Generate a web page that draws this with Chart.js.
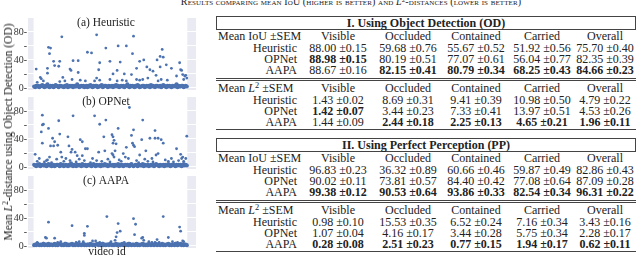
<!DOCTYPE html>
<html>
<head>
<meta charset="utf-8">
<script src="https://cdn.jsdelivr.net/npm/chart.js@4.4.1/dist/chart.umd.min.js"></script>
<style>
  body { margin: 0; width: 640px; height: 255px; overflow: hidden; background: #fff; position: relative;
         font-family: 'Liberation Serif', 'DejaVu Serif', serif; color: #222; }
  canvas.panel { position: absolute; left: 0; }
  #ytitle { position: absolute; left: 8px; top: 132px; transform: translate(-50%, -50%) rotate(-90deg);
            white-space: nowrap; font-size: 11.5px; }
  #xtitle { position: absolute; left: 107px; top: 245px; transform: translateX(-50%); font-size: 11.5px; white-space: nowrap; }
  #caption { position: absolute; left: 351px; top: -4px; transform: translateX(-50%); white-space: nowrap;
             font-size: 10px; font-variant: small-caps; letter-spacing: 0.1px; }
  sup { font-size: 70%; line-height: 0; vertical-align: 0.45em; }
  .row { position: absolute; left: 216px; width: 420px; height: 12px; line-height: 12px; font-size: 12px;
         display: grid; grid-template-columns: 86px 72px 68px 68px 64px 62px; white-space: nowrap; }
  .row span { text-align: center; }
  .row span.lab { text-align: right; padding-right: 5px; }
  .row span.hlab { text-align: left; padding-left: 2px; overflow: visible; }
  .box { position: absolute; left: 216px; width: 418px; height: 12px; line-height: 12px; font-size: 12px;
         border: 1px solid #444; text-align: center; font-weight: bold; }
  .rule { position: absolute; left: 216px; width: 420px; height: 0; border-top: 1px solid #444; }
</style>
</head>
<body>
<div id="caption">Results comparing mean IoU (higher is better) and <i>L</i><sup>2</sup>-distances (lower is better)</div>
<canvas id="panelA" class="panel" width="200" height="88" style="top:10px"></canvas>
<canvas id="panelB" class="panel" width="200" height="88" style="top:89px"></canvas>
<canvas id="panelC" class="panel" width="200" height="88" style="top:168px"></canvas>
<div id="ytitle">Mean <i>L</i><sup>2</sup>-distance using Object Detection (OD)</div>
<div id="xtitle">video id</div>
<div id="tables"></div>
<script>
// per-video baseline distances (the dense band near zero)
const heuristicBase = [
  2,1,3,2,3,1,2,3,4,2, 1,3,2,5,2,1,3,2,3,1, 2,4,3,2,1,3,3,2,2,1, 3,2,4,1,2,3,2,3,1,3,
  2,2,5,3,1,2,3,2,3,1, 2,3,1,3,2,4,2,1,3,2, 3,3,1,2,2,3,4,1,2,3, 3,2,1,3,2,2,3,1,3,2,
  4,2,3,1,2,3,2,3,1,2, 3,5,2,1,3,2,3,2,1,3, 2,4,3,1,2,2,3,3,1,2, 3,2,3,1,4,2,3,2,1,3,
  3,2,2,3,1,2,4,3,2,1, 3,2,3,2,1,3,2,3,2,5, 1,3,2,2,3,3,1,2,3,2
];
const opnetBase = [
  3,2,1,3,2,4,1,2,3,2, 2,3,1,2,4,2,3,1,2,3, 1,2,3,3,2,1,4,2,3,1, 2,3,2,1,3,2,5,2,1,3,
  2,1,3,2,3,2,1,4,2,2, 3,1,2,3,2,3,1,2,4,2, 1,3,2,2,3,1,3,2,2,4, 2,3,1,2,3,2,2,3,1,3,
  2,2,4,1,3,2,3,1,2,3, 2,3,2,1,3,4,2,1,2,3, 3,1,2,3,2,2,4,1,3,2, 2,3,1,2,3,2,3,1,2,4,
  3,2,1,3,2,2,3,1,3,2, 2,4,2,1,3,2,3,2,1,3, 2,3,2,3,1,2,4,2,3,2
];
const aapaBase = [
  1,2,1,3,2,1,2,1,2,3, 1,2,2,1,3,1,2,2,1,2, 3,1,2,1,2,3,2,1,2,1, 2,3,1,2,1,2,2,3,1,2,
  1,2,3,1,2,2,1,2,3,1, 2,1,2,2,1,3,2,1,2,1, 2,2,3,1,2,1,2,3,1,2, 1,2,2,1,3,2,1,2,1,2,
  3,1,2,2,1,2,3,1,2,1, 2,2,1,3,2,1,2,2,1,2, 3,1,2,1,2,2,3,1,2,1, 2,1,3,2,1,2,2,1,2,3,
  1,2,2,1,2,3,1,2,1,2, 2,3,1,2,1,2,2,1,3,2, 1,2,2,3,1,2,1,2,2,1
];

// videos with larger mean distance (video id, value)
const heuristicIds = [2,27,14,16,15,19,20,25,13,24, 13,6,7,3,9,28,35,36,38,43, 43,52,56,61,64,63,61,70,74,77,
  81,82,84,88,90,96,97,95,100,103, 107,110,113,116,111,120,123,119,125,123, 126,129,134,139,142,143,144,145,147,148,
  149,146,130,124,121,106,103,100,90,86, 81,74,64,59,50,45,37,30,25];
const heuristicVals = [27,73,58,57,49,38,32,38,28,31, 21,15,13,8,10,15,27,25,39,39, 22,51,50,76,36,26,14,57,38,20,
  25,60,37,20,60,49,74,19,28,38, 40,30,26,24,14,40,30,18,55,45, 44,33,28,17,36,26,25,19,17,18,
  14,12,11,12,10,12,11,12,10,11, 10,12,11,10,10,11,12,10,9];

const opnetIds = [1,8,7,8,9,8,14,16,15,13, 19,18,20,24,23,25,26,27,33,38, 34,36,37,40,42,45,47,50,52,47,
  59,64,63,68,70,69,76,77,77,78, 80,82,79,77,76,78,87,89,90,93, 95,96,97,98,97,105,106,103,113,118,
  118,121,124,126,119,121,109,139,143,145, 144,149,148,
  3,5,10,12,17,22,29,31,35,41, 44,49,55,57,61,66,72,74,83,85, 92,100,102,108,111,115,116,128,131,134, 136,141,146];
const opnetVals = [18,34,50,60,61,74,55,30,14,10, 30,41,36,66,31,47,21,14,43,73, 30,21,25,21,16,39,36,26,26,16,
  73,61,21,43,67,23,46,43,34,38, 33,55,23,17,19,14,19,14,28,85, 45,34,31,29,53,39,67,17,41,52,
  41,41,39,34,17,19,23,26,18,14, 12,44,12,
  8,12,7,9,6,11,8,12,9,7, 11,9,6,12,9,8,11,7,10,8, 12,9,6,11,8,12,7,10,8,12, 7,9,8];

const aapaIds = [14,11,12,20,37,52,49,49,48,57, 60,71,82,84,80,81,79,97,99,98, 105,106,107,120,126,131,142,143,146,145,
  3,9,23,26,30,41,44,64,67,75, 88,92,112,115,118,122,135,138,140];
const aapaVals = [34,12,11,11,29,28,18,15,6,7, 7,42,32,21,13,19,8,39,31,16, 11,12,8,9,42,12,27,21,6,7,
  5,4,5,6,4,5,6,5,4,6, 5,4,6,5,5,5,6,4,5];

// table values
const methods = ['Heuristic', 'OPNet', 'AAPA'];
const conditions = ['Visible', 'Occluded', 'Contained', 'Carried', 'Overall'];
const iouOD = [[88.00,59.68,55.67,51.92,75.70],[88.98,80.19,77.07,56.04,82.35],[88.67,82.15,80.79,68.25,84.66]];
const iouODsem = [[0.15,0.76,0.52,0.56,0.40],[0.15,0.51,0.61,0.77,0.39],[0.16,0.41,0.34,0.43,0.23]];
const l2OD = [[1.43,8.69,9.41,10.98,4.79],[1.42,3.44,7.33,13.97,4.53],[1.44,2.44,2.25,4.65,1.96]];
const l2ODsem = [[0.02,0.31,0.39,0.50,0.22],[0.07,0.23,0.41,0.51,0.26],[0.09,0.18,0.13,0.21,0.11]];
const iouPP = [[96.83,36.32,60.66,59.87,82.86],[90.02,73.81,84.40,77.08,87.09],[99.38,90.53,93.86,82.54,96.31]];
const iouPPsem = [[0.23,0.89,0.46,0.49,0.43],[0.11,0.57,0.42,0.64,0.28],[0.12,0.64,0.33,0.34,0.22]];
const l2PP = [[0.98,15.53,6.52,7.16,3.43],[1.07,4.16,3.44,5.75,2.28],[0.28,2.51,0.77,1.94,0.62]];
const l2PPsem = [[0.10,0.35,0.24,0.34,0.16],[0.04,0.17,0.28,0.34,0.17],[0.08,0.23,0.15,0.17,0.11]];

const BLUE = '#4C72B0';

const panelBg = {
  id: 'panelBg',
  beforeDraw(chart) {
    const { ctx, chartArea: a, scales: { x } } = chart;
    ctx.save();
    ctx.fillStyle = '#EAEAF2';
    ctx.fillRect(a.left, a.top, a.right - a.left, a.bottom - a.top);
    const l = x.getPixelForValue(-0.5), r = x.getPixelForValue(149.5);
    ctx.fillStyle = '#fff';
    ctx.fillRect(l, a.top, r - l, a.bottom - a.top);
    ctx.restore();
  },
  afterDraw(chart, args, opts) {
    const { ctx, chartArea: a } = chart;
    ctx.save();
    ctx.font = '11.5px "Liberation Serif"';
    ctx.fillStyle = '#222';
    ctx.textAlign = 'center';
    ctx.textBaseline = 'middle';
    ctx.fillText(opts.text, 106, a.top + 5);
    ctx.restore();
  }
};

function makePanel(id, title, base, ids, vals) {
  new Chart(document.getElementById(id), {
    type: 'scatter',
    data: {
      datasets: [
        { data: base.map((v, i) => ({ x: i, y: v })), backgroundColor: BLUE, borderWidth: 0, pointRadius: 2.1 },
        { data: ids.map((v, i) => ({ x: v, y: vals[i] })), backgroundColor: BLUE, borderWidth: 0, pointRadius: 1.4 }
      ]
    },
    options: {
      responsive: false,
      animation: false,
      layout: { padding: { top: 8, bottom: 8, left: 0, right: 3 } },
      plugins: { legend: { display: false }, tooltip: { enabled: false }, panelBg: { text: title } },
      scales: {
        x: { type: 'linear', min: -6, max: 158, display: false },
        y: {
          min: -3, max: 100,
          afterBuildTicks: s => { s.ticks = [0, 20, 40, 60, 80].map(v => ({ value: v })); },
          afterFit: s => { s.width = 28; },
          border: { display: false },
          grid: { color: '#fff', lineWidth: 1, drawTicks: false },
          ticks: {
            padding: 1, color: '#333',
            font: { family: 'Liberation Serif', size: 10 },
            callback: v => (v % 40 === 0 ? v + '-' : '-')
          }
        }
      }
    },
    plugins: [panelBg]
  });
}

makePanel('panelA', '(a) Heuristic', heuristicBase, heuristicIds, heuristicVals);
makePanel('panelB', '(b) OPNet', opnetBase, opnetIds, opnetVals);
makePanel('panelC', '(c) AAPA', aapaBase, aapaIds, aapaVals);

// tables
const host = document.getElementById('tables');
function add(html) { host.insertAdjacentHTML('beforeend', html); }
function header(top, label) {
  add(`<div class="row" style="top:${top}px"><span class="hlab">${label}</span>` +
      conditions.map(c => `<span>${c}</span>`).join('') + '</div>');
}
function rows(top, means, sems, higherBetter) {
  methods.forEach((m, r) => {
    const cells = conditions.map((c, j) => {
      const col = means.map(row => row[j]);
      const best = higherBetter ? Math.max(...col) : Math.min(...col);
      const txt = `${means[r][j].toFixed(2)} ±${sems[r][j].toFixed(2)}`;
      return means[r][j] === best ? `<span><b>${txt}</b></span>` : `<span>${txt}</span>`;
    }).join('');
    add(`<div class="row" style="top:${top + r * 11.3}px"><span class="lab">${m}</span>${cells}</div>`);
  });
}
function section(s, title, iou, iouSem, l2, l2Sem) {
  add(`<div class="box" style="top:${s}px">${title}</div>`);
  header(s + 13.5, 'Mean IoU ±SEM');
  rows(s + 25.5, iou, iouSem, true);
  add(`<div class="rule" style="top:${s + 62}px"></div><div class="rule" style="top:${s + 64}px"></div>`);
  header(s + 65.5, 'Mean <i>L</i><sup>2</sup> ±SEM');
  rows(s + 77.5, l2, l2Sem, false);
  add(`<div class="rule" style="top:${s + 113}px"></div>`);
}
section(16, 'I. Using Object Detection (OD)', iouOD, iouODsem, l2OD, l2ODsem);
section(138, 'II. Using Perfect Perception (PP)', iouPP, iouPPsem, l2PP, l2PPsem);
</script>
</body>
</html>
